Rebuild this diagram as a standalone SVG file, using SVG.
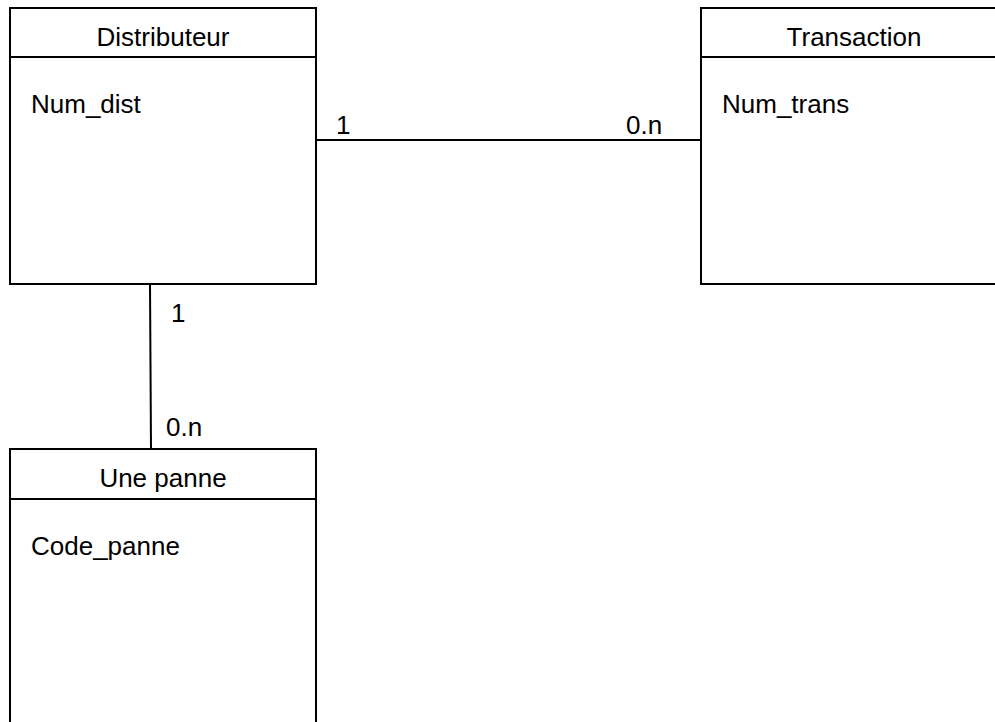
<svg xmlns="http://www.w3.org/2000/svg" width="995" height="722" viewBox="0 0 995 722">
<style>
.box{fill:#fff;stroke:#000;stroke-width:2}
.sep{stroke:#000;stroke-width:2}
.conn{stroke:#000;stroke-width:2;fill:none}
text{font-family:"Liberation Sans",Arial,sans-serif;font-size:26px;fill:#000}
.title{text-anchor:middle}
</style>
<rect width="995" height="722" fill="#fff"/>
<g id="connectors">
<line class="conn" x1="316" y1="140" x2="701" y2="140"/>
<line class="conn" x1="150" y1="284" x2="151" y2="449"/>
<text x="336" y="134">1</text>
<text x="626" y="134">0.n</text>
<text x="171" y="322">1</text>
<text x="166" y="436">0.n</text>
</g>
<g id="distributeur">
<rect class="box" x="10" y="8" width="306" height="276"/>
<line class="sep" x1="10" y1="57" x2="316" y2="57"/>
<text class="title" x="163" y="46">Distributeur</text>
<text x="31" y="113">Num_dist</text>
</g>
<g id="transaction">
<rect class="box" x="701" y="8" width="306" height="276"/>
<line class="sep" x1="701" y1="57" x2="1007" y2="57"/>
<text class="title" x="854" y="46">Transaction</text>
<text x="722" y="113">Num_trans</text>
</g>
<g id="une-panne">
<rect class="box" x="10" y="449" width="306" height="290"/>
<line class="sep" x1="10" y1="499" x2="316" y2="499"/>
<text class="title" x="163" y="487">Une panne</text>
<text x="31" y="555">Code_panne</text>
</g>
</svg>
